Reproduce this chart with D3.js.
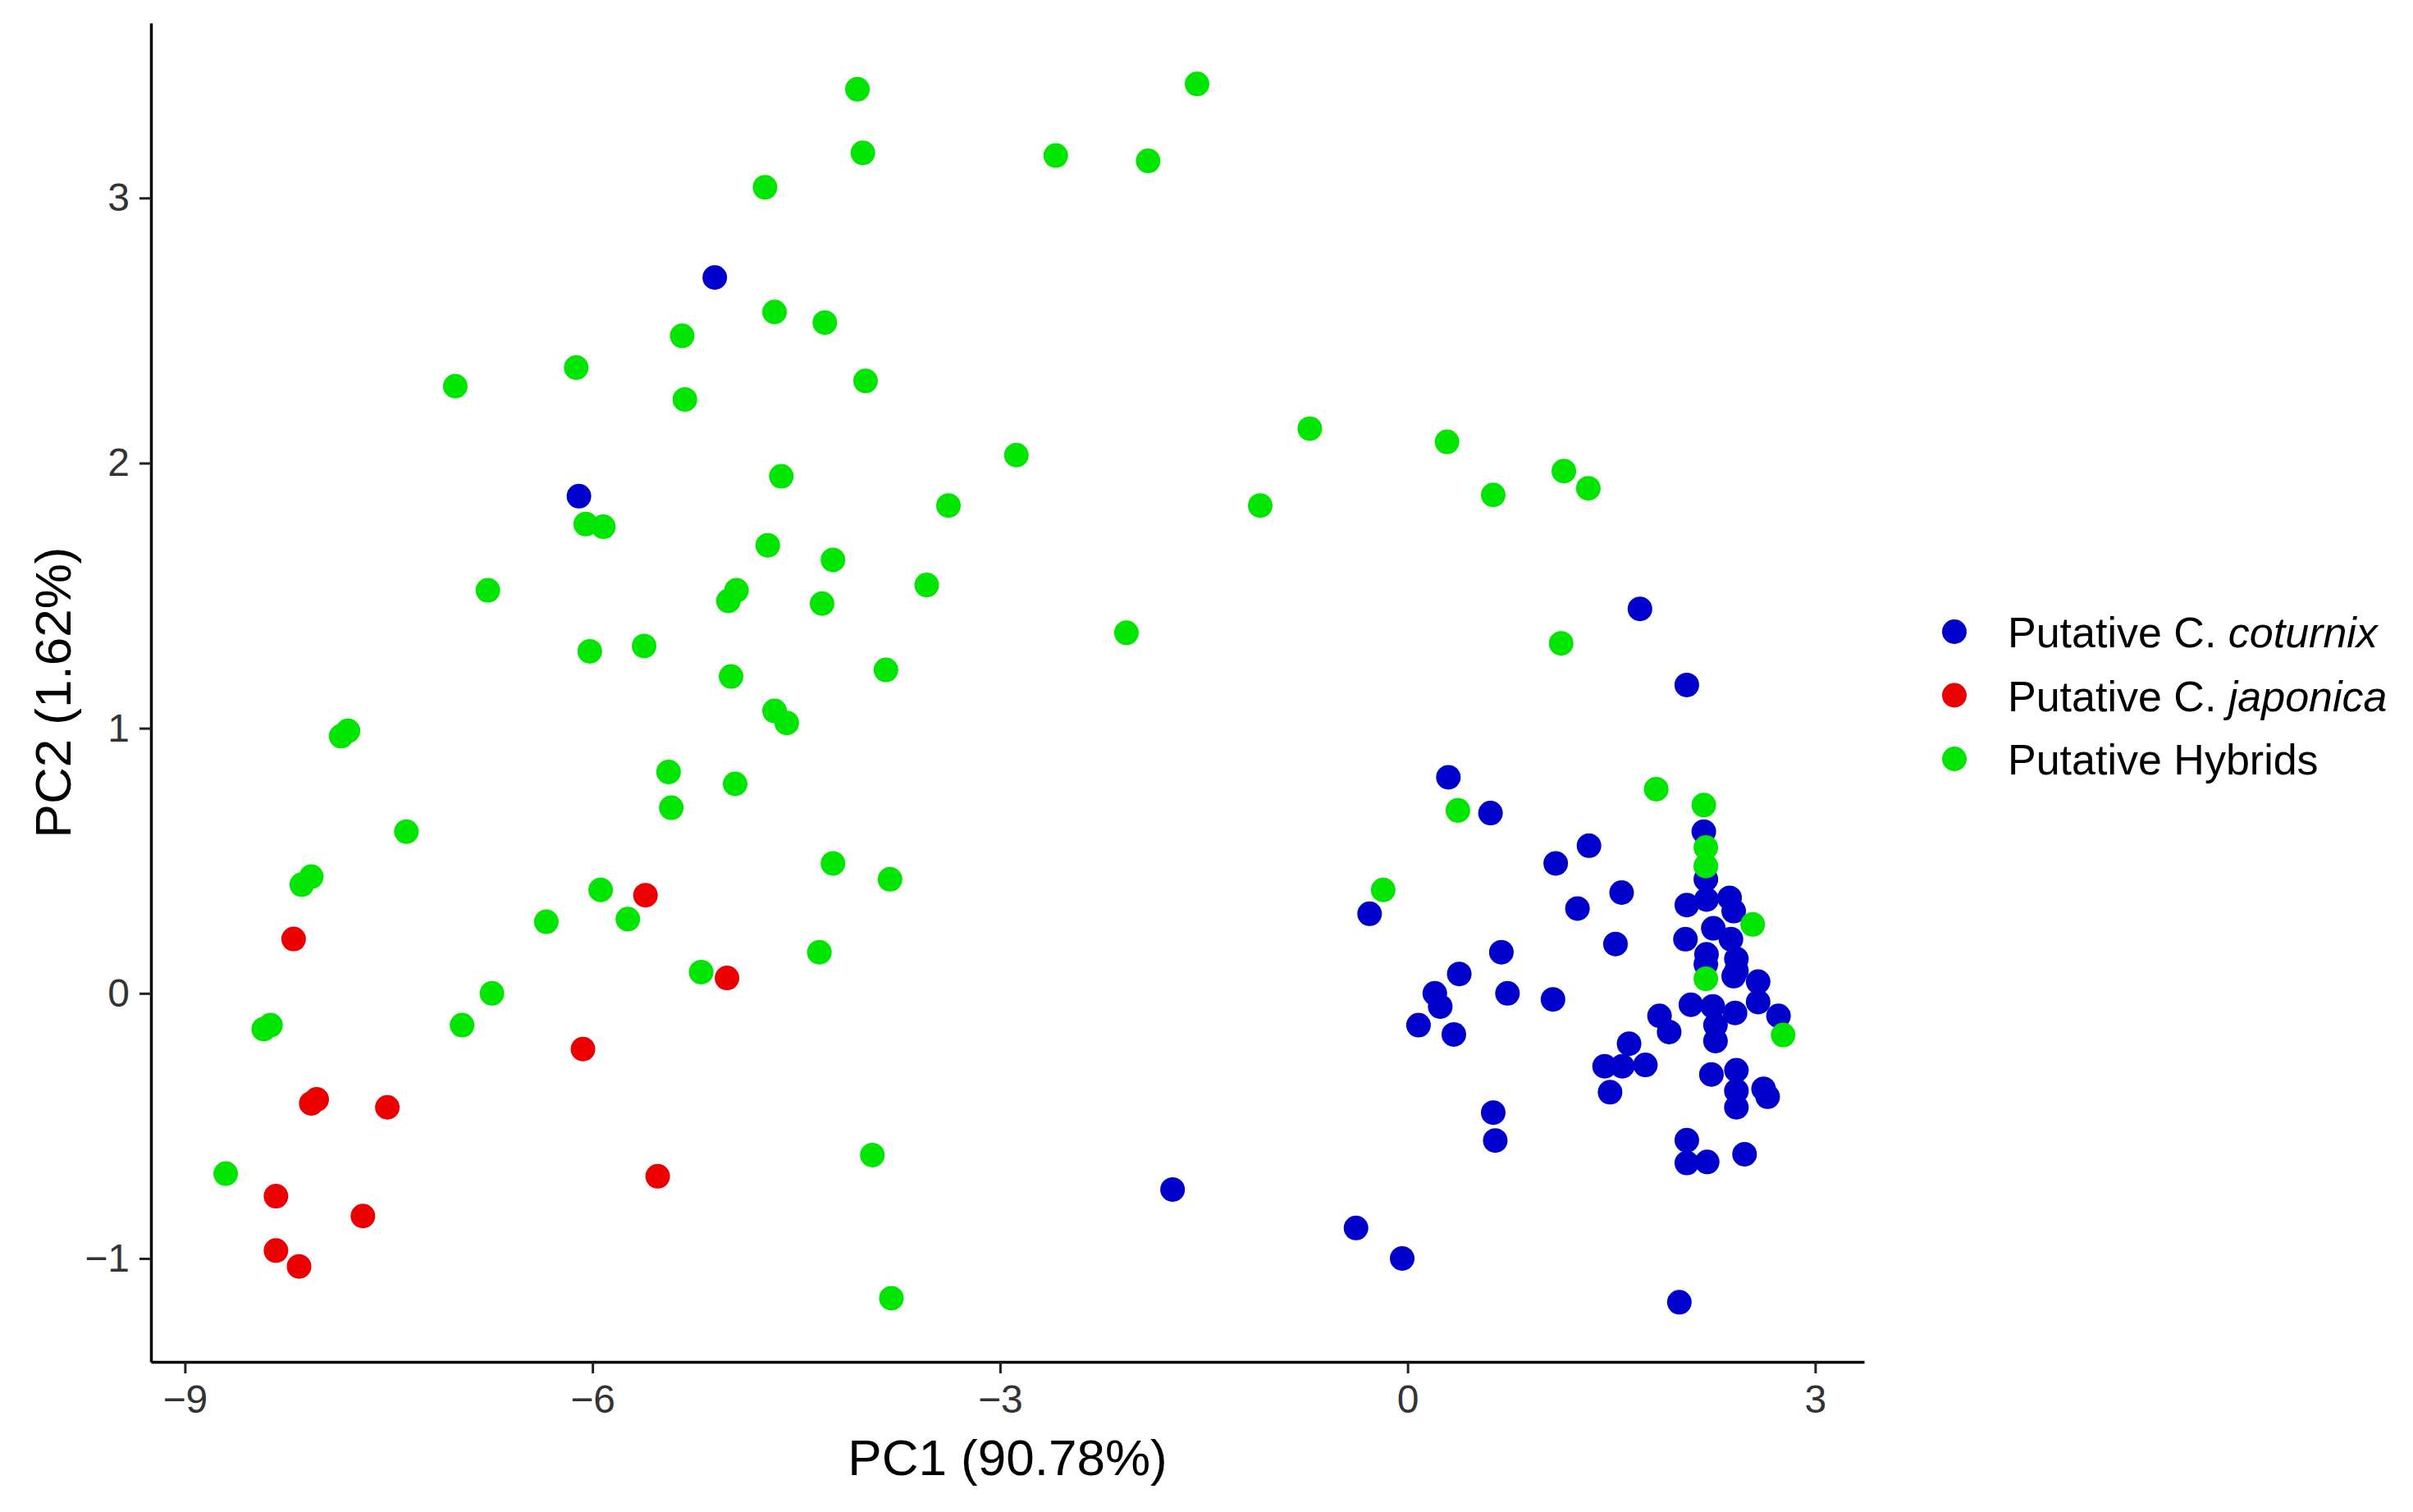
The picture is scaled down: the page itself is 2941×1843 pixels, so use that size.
<!DOCTYPE html>
<html>
<head>
<meta charset="utf-8">
<script src="https://cdn.jsdelivr.net/npm/d3@7"></script>
<style>
  html, body { margin: 0; padding: 0; background: #fff; }
  svg text { font-family: "Liberation Sans", Arial, sans-serif; }
</style>
</head>
<body>
<svg id="chart" width="2941" height="1843"></svg>
<script>
// PC1 / PC2 scores, one array per group
var coturnix = [
    [-5.10, 2.70], [-6.10, 1.875], [-1.73, -0.74], [-0.38, -0.885], [-0.04, -1.00], [-0.28, 0.30],
    [0.30, 0.815], [0.61, 0.68], [0.69, 0.155], [0.38, 0.073], [0.735, 0.0], [0.20, 0.0],
    [0.24, -0.05], [0.08, -0.12], [0.34, -0.155], [0.63, -0.45], [0.645, -0.555],
    [1.71, 1.45], [2.055, 1.163], [2.18, 0.61], [2.195, 0.43], [1.335, 0.557], [1.09, 0.49],
    [1.575, 0.38], [1.25, 0.32], [2.055, 0.333], [2.20, 0.354], [2.37, 0.36], [2.40, 0.31],
    [2.25, 0.245], [2.045, 0.204], [2.38, 0.204], [1.53, 0.186], [2.20, 0.147], [2.42, 0.13],
    [2.195, 0.11], [2.40, 0.065], [2.58, 0.044], [2.42, 0.086], [1.07, -0.023], [2.58, -0.033],
    [2.085, -0.043], [2.246, -0.049], [2.41, -0.074], [2.73, -0.085], [1.854, -0.085],
    [1.925, -0.146], [2.266, -0.12], [2.266, -0.18], [1.63, -0.19], [1.45, -0.275],
    [1.58, -0.275], [1.75, -0.27], [2.236, -0.306], [2.42, -0.29], [2.42, -0.368],
    [2.42, -0.43], [2.62, -0.36], [2.65, -0.39], [1.49, -0.373], [2.055, -0.554],
    [2.055, -0.64], [2.205, -0.636], [2.48, -0.607], [2.0, -1.165]
];
var japonica = [
    [-5.61, 0.37], [-8.20, 0.205], [-5.01, 0.058], [-6.07, -0.21], [-8.07, -0.415], [-8.03, -0.40],
    [-7.51, -0.43], [-5.52, -0.69], [-8.33, -0.765], [-7.69, -0.84], [-8.33, -0.97], [-8.16, -1.03]
];
var hybrids = [
    [-4.05, 3.41], [-4.01, 3.17], [-4.73, 3.04], [-4.66, 2.57], [-4.29, 2.53], [-5.34, 2.48],
    [-6.12, 2.36], [-7.01, 2.29], [-5.32, 2.24], [-3.99, 2.31], [-4.61, 1.95], [-6.05, 1.77],
    [-5.92, 1.76], [-4.71, 1.69], [-4.23, 1.635], [-6.77, 1.52], [-4.94, 1.52], [-5.00, 1.48],
    [-4.31, 1.47], [-6.02, 1.29], [-5.62, 1.31], [-4.98, 1.195], [-3.84, 1.22], [-4.66, 1.065],
    [-4.57, 1.02], [-7.85, 0.97], [-7.80, 0.99],
    [-5.44, 0.835], [-4.95, 0.79], [-5.42, 0.70], [-7.37, 0.61], [-8.14, 0.41], [-8.07, 0.44],
    [-5.94, 0.39], [-4.23, 0.49], [-3.81, 0.43], [-6.34, 0.27], [-5.74, 0.28], [-4.33, 0.155],
    [-5.20, 0.08], [-6.74, 0.0], [-8.42, -0.135], [-8.37, -0.12], [-6.96, -0.12], [-3.94, -0.61],
    [-8.70, -0.68], [-3.80, -1.15],
    [-1.55, 3.43], [-2.59, 3.16], [-1.91, 3.14], [-0.72, 2.13], [-2.88, 2.03], [0.29, 2.08],
    [0.63, 1.88], [-3.38, 1.84], [-1.085, 1.84], [-3.54, 1.54], [-2.07, 1.36],
    [0.37, 0.69], [-0.18, 0.39], [1.15, 1.97], [1.33, 1.905], [1.13, 1.32],
    [1.83, 0.77], [2.18, 0.71], [2.195, 0.55], [2.195, 0.48], [2.54, 0.26], [2.195, 0.055],
    [2.764, -0.157]
];

var groups = ["coturnix", "japonica", "hybrids"];
var groupColors = ["#0000cd", "#ee0000", "#00e600"];
var xTicks = [-9, -6, -3, 0, 3];
var yTicks = [-1, 0, 1, 2, 3];
var xTitle = "PC1 (90.78%)";
var yTitle = "PC2 (1.62%)";

var svg = d3.select("#chart");
var panel = {left: 184, right: 2272, top: 28, bottom: 1660};

var x = d3.scaleLinear().domain([-9.25, 3.36]).range([panel.left, panel.right]);
var y = d3.scaleLinear().domain([-1.39, 3.66]).range([panel.bottom, panel.top]);

var fmt = d3.format("d");

// axes (theme_classic look: just the two lines)
var gx = svg.append("g")
    .attr("transform", "translate(0," + panel.bottom + ")")
    .call(d3.axisBottom(x).tickValues(xTicks).tickFormat(fmt)
        .tickSize(14).tickPadding(14).tickSizeOuter(0));
var gy = svg.append("g")
    .attr("transform", "translate(" + panel.left + ",0)")
    .call(d3.axisLeft(y).tickValues(yTicks).tickFormat(fmt)
        .tickSize(14).tickPadding(12).tickSizeOuter(0));

[gx, gy].forEach(function (g) {
    g.select(".domain").attr("stroke", "#000").attr("stroke-width", 3.5);
    g.selectAll(".tick line").attr("stroke", "#222").attr("stroke-width", 3);
    g.selectAll(".tick text")
        .attr("font-size", 48)
        .attr("fill", "#333")
        .style("font-family", "Liberation Sans, Arial, sans-serif");
});

// points: blue first, then red, then green on top
var layers = [coturnix, japonica, hybrids];
layers.forEach(function (pts, i) {
    svg.append("g")
        .attr("class", "group-" + groups[i])
        .selectAll("circle")
        .data(pts)
        .enter()
        .append("circle")
        .attr("cx", function (d) { return x(d[0]); })
        .attr("cy", function (d) { return y(d[1]); })
        .attr("r", 15)
        .attr("fill", groupColors[i]);
});

// axis titles
svg.append("text")
    .attr("x", (panel.left + panel.right) / 2)
    .attr("y", 1798)
    .attr("text-anchor", "middle")
    .attr("font-size", 62)
    .attr("fill", "#000")
    .text(xTitle);

svg.append("text")
    .attr("transform", "translate(86," + (panel.top + panel.bottom) / 2 + ") rotate(-90)")
    .attr("text-anchor", "middle")
    .attr("font-size", 62)
    .attr("fill", "#000")
    .text(yTitle);

// legend
var legendItems = [
    {plain: "Putative C. ", italic: "coturnix"},
    {plain: "Putative C. ", italic: "japonica"},
    {plain: "Putative Hybrids", italic: ""}
];
var legend = svg.append("g").attr("transform", "translate(2382,770)");
var row = legend.selectAll("g")
    .data(legendItems)
    .enter()
    .append("g")
    .attr("transform", function (d, i) { return "translate(0," + (i * 77.5) + ")"; });
row.append("circle")
    .attr("r", 15)
    .attr("fill", function (d, i) { return groupColors[i]; });
var label = row.append("text")
    .attr("x", 65)
    .attr("y", 19)
    .attr("font-size", 52)
    .attr("fill", "#000");
label.append("tspan").text(function (d) { return d.plain; });
label.append("tspan")
    .attr("font-style", "italic")
    .text(function (d) { return d.italic; });
</script>
</body>
</html>
